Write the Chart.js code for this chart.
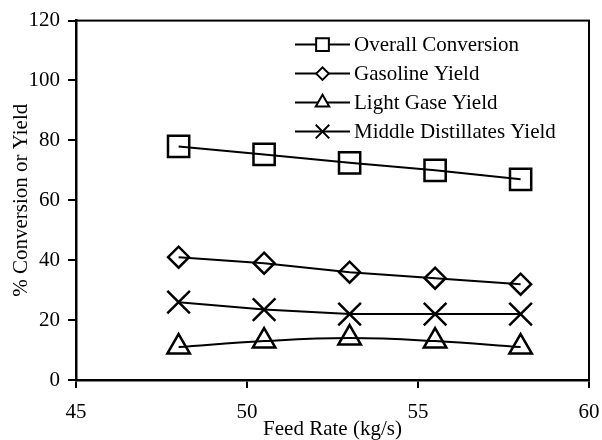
<!DOCTYPE html>
<html>
<head>
<meta charset="utf-8">
<style>
  * { margin: 0; padding: 0; box-sizing: border-box; }
  body { background: #fff; width: 602px; height: 440px; overflow: hidden; }
  .chartBox { position: relative; width: 602px; height: 440px; }
</style>
</head>
<body>
<div class="chartBox">
  <canvas id="myChart"></canvas>
</div>

<script src="https://cdn.jsdelivr.net/npm/chart.js/dist/chart.umd.min.js"></script>
<script>
// data
const feedRate = [48, 50.5, 53, 55.5, 58];
const overallConversion = [78, 75.3, 72.5, 70, 67];
const gasolineYield = [41, 39, 36, 34, 32];
const lightGaseYield = [11, 13, 14, 13, 11];
const middleDistYield = [26, 23.5, 22, 22, 22];
const xTicks = [45, 50, 55, 60];
const yTicks = [0, 20, 40, 60, 80, 100, 120];

const serif = "'Liberation Serif', 'Times New Roman', serif";

function pts(ys) {
  return feedRate.map((x, i) => ({ x: x, y: ys[i] }));
}

function series(label, ys, style, radius, tension) {
  return {
    label: label,
    data: pts(ys),
    borderColor: '#000',
    borderWidth: 2,
    pointStyle: style,
    pointRadius: radius,
    pointHoverRadius: radius,
    pointBorderWidth: 2.5,
    pointBorderColor: '#000',
    pointBackgroundColor: 'rgba(0,0,0,0)',
    tension: tension || 0,
    fill: false
  };
}

// frame round the plot + legend inside the plot area
const framePlugin = {
  id: 'frame',
  afterDraw(chart) {
    const ctx = chart.ctx;
    const a = chart.chartArea;
    ctx.save();
    ctx.strokeStyle = '#000';
    ctx.lineWidth = 2;
    ctx.strokeRect(a.left, a.top, a.right - a.left, a.bottom - a.top);

    // legend
    const x0 = a.left + 219, x1 = a.left + 274, xm = (x0 + x1) / 2;
    let y = a.top + 24;
    ctx.font = '21px ' + serif;
    ctx.textBaseline = 'middle';
    ctx.fillStyle = '#000';
    chart.data.datasets.forEach(ds => {
      ctx.lineWidth = 2;
      ctx.beginPath();
      ctx.moveTo(x0, y);
      ctx.lineTo(x1, y);
      ctx.stroke();
      ctx.fillStyle = '#fff';
      Chart.helpers.drawPoint(ctx, {
        pointStyle: ds.pointStyle,
        radius: ds.pointRadius * 0.6,
        rotation: 0,
        borderWidth: 2.5
      }, xm, y);
      ctx.fillStyle = '#000';
      ctx.fillText(ds.label, x1 + 4, y + 1);
      y += 29;
    });
    ctx.restore();
  }
};

const config = {
  type: 'line',
  data: {
    datasets: [
      series('Overall Conversion', overallConversion, 'rect', 15),
      series('Gasoline Yield', gasolineYield, 'rectRot', 10.5),
      series('Light Gase Yield', lightGaseYield, 'triangle', 13, 0.4),
      series('Middle Distillates Yield', middleDistYield, 'crossRot', 16)
    ]
  },
  options: {
    responsive: true,
    maintainAspectRatio: false,
    animation: false,
    layout: { autoPadding: false, padding: { top: 19, right: 0, left: 0, bottom: 0 } },
    plugins: {
      legend: { display: false },
      tooltip: { enabled: false }
    },
    scales: {
      x: {
        type: 'linear',
        min: 45,
        max: 60,
        afterBuildTicks: s => { s.ticks = xTicks.map(v => ({ value: v })); },
        afterFit: s => { s.height = 60; s.paddingRight = 13; },
        grid: { display: true, drawOnChartArea: false, drawTicks: true, tickLength: 8, color: '#000', lineWidth: 2 },
        border: { display: true, color: '#000', width: 2.5 },
        ticks: { color: '#000', font: { family: serif, size: 21 }, padding: 12, maxRotation: 0 },
        title: {
          display: true,
          text: 'Feed Rate (kg/s)',
          color: '#000',
          font: { family: serif, size: 21, lineHeight: 1 },
          padding: { top: 0, bottom: 0 }
        }
      },
      y: {
        min: 0,
        max: 120,
        afterBuildTicks: s => { s.ticks = yTicks.map(v => ({ value: v })); },
        afterFit: s => { s.width = 76; },
        grid: { display: true, drawOnChartArea: false, drawTicks: true, tickLength: 8, color: '#000', lineWidth: 2 },
        border: { display: true, color: '#000', width: 2.5 },
        ticks: { color: '#000', font: { family: serif, size: 21 }, padding: 8 },
        title: {
          display: true,
          text: '% Conversion or Yield',
          color: '#000',
          font: { family: serif, size: 21, lineHeight: 1 },
          padding: { top: 11, bottom: 0 }
        }
      }
    }
  },
  plugins: [framePlugin]
};

const myChart = new Chart(document.getElementById('myChart'), config);
</script>
</body>
</html>
